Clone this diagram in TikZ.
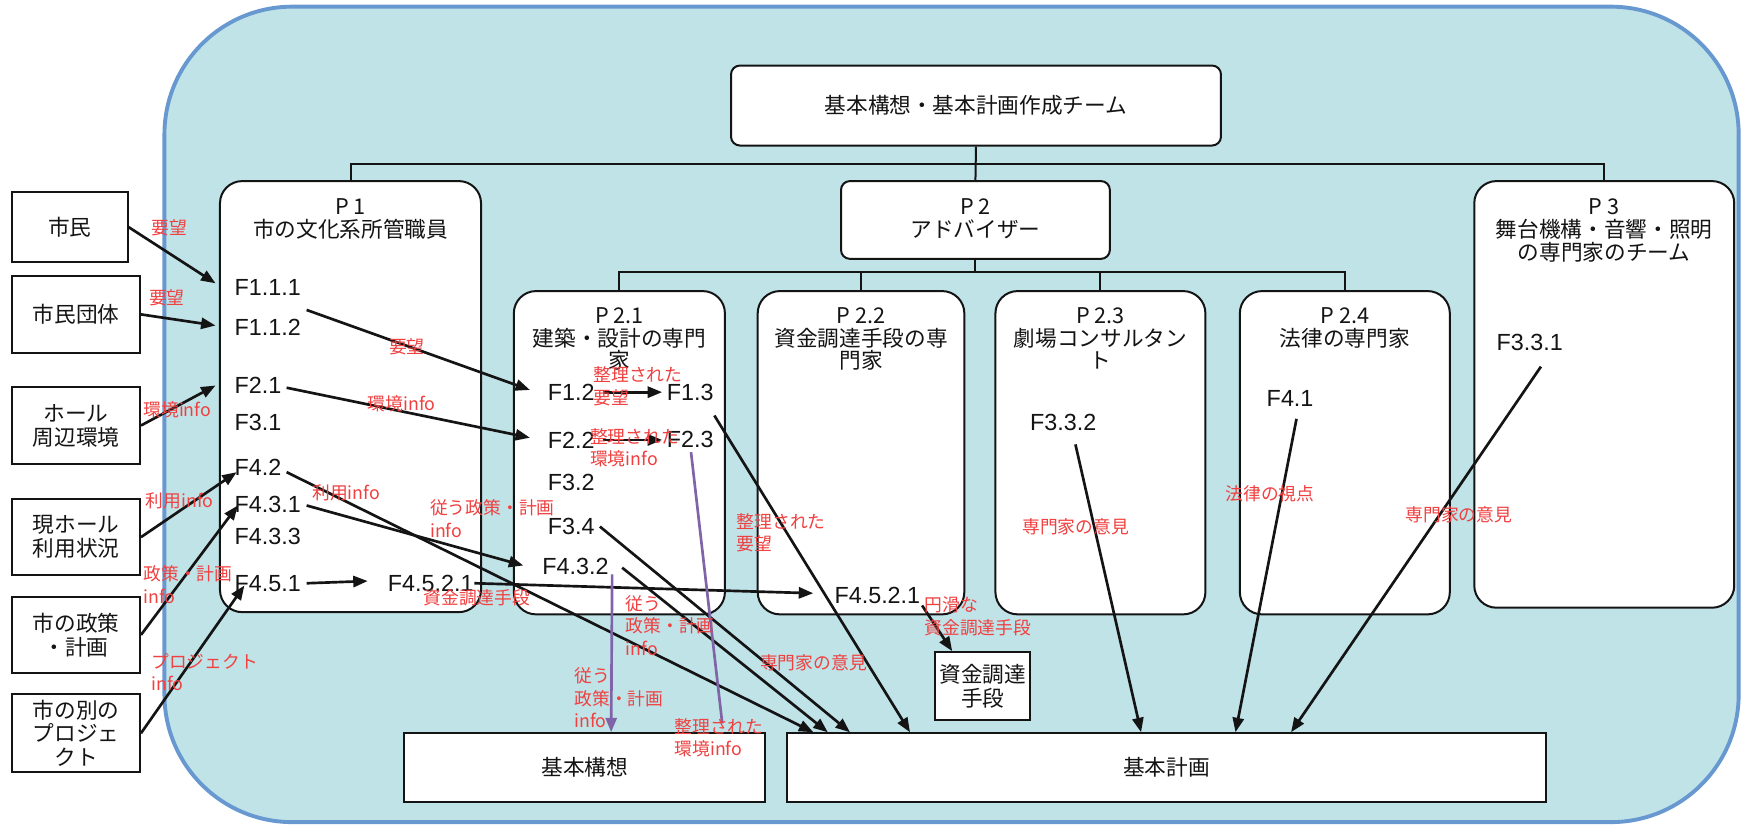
\documentclass[tikz,border=0pt]{standalone}
\usepackage{fontspec}
\setmainfont{Liberation Sans}
\newfontfamily\jp{Noto Sans CJK JP}
\usetikzlibrary{arrows.meta}
\definecolor{bgblue}{RGB}{192,227,232}
\definecolor{frameblue}{RGB}{104,152,208}
\definecolor{lblred}{RGB}{240,64,64}
\definecolor{purp}{RGB}{128,100,168}
\definecolor{ink}{RGB}{20,20,20}
\begin{document}
\begin{tikzpicture}[x=1pt,y=-1pt,
  box/.style={draw=ink, line width=1.8pt, fill=white, inner sep=0pt, align=center, text=ink, font=\jp\fontsize{19.5}{21.5}\selectfont},
  pbox/.style={box, rounded corners=20pt},
  ptitle/.style={font=\jp\fontsize{19.5}{20.5}\selectfont, align=center, inner sep=0pt, anchor=north, text=ink},
  flab/.style={font=\fontsize{21}{23}\selectfont, anchor=west, inner sep=0pt, text=ink},
  rlab/.style={font=\jp\fontsize{16}{20.5}\selectfont, text=lblred, anchor=west, align=left, inner sep=0pt},
  arr/.style={draw=ink, line width=2.4pt, -{Triangle[length=13pt,width=10pt]}},
  parr/.style={draw=purp, line width=2.4pt},
  tree/.style={draw=ink, line width=1.8pt}
]
\useasboundingbox (0,0) rectangle (1568,743);
% frame
\draw[line width=3.5pt, draw=frameblue, fill=bgblue, rounded corners=115pt] (148,6) rectangle (1565,740);

% boxes
\node[box, rounded corners=8pt, minimum width=441pt, minimum height=72pt] (team) at (878.5,95) {基本構想・基本計画作成チーム};
\node[pbox, minimum width=235pt, minimum height=388pt] (p1) at (315.5,357) {};
\node[box, rounded corners=8pt, minimum width=242pt, minimum height=70pt] (p2) at (878,198) {};
\node[pbox, minimum width=190pt, minimum height=291pt] (p21) at (557.5,407.5) {};
\node[pbox, minimum width=186pt, minimum height=291pt] (p22) at (775,407.5) {};
\node[pbox, minimum width=189pt, minimum height=291pt] (p23) at (990.5,407.5) {};
\node[pbox, minimum width=189pt, minimum height=291pt] (p24) at (1210.5,407.5) {};
\node[pbox, minimum width=234pt, minimum height=384pt] (p3) at (1444,355) {};

% tree connectors
\coordinate (busA) at (878,148);
\coordinate (busB) at (878,245);
\draw[tree] (team.south) -- (p2.north);
\draw[tree] (p1.north) -- (p1.north |- busA) -- (p3.north |- busA) -- (p3.north);
\draw[tree] (p2.south) -- (p2.south |- busB);
\draw[tree] (p21.north) -- (p21.north |- busB) -- (p24.north |- busB) -- (p24.north);
\draw[tree] (p22.north) -- (p22.north |- busB);
\draw[tree] (p23.north) -- (p23.north |- busB);

% titles
\node[ptitle] (p1t) at (315.5,179) {P 1\\市の文化系所管職員};
\node[ptitle] (p2t) at (878,179) {P 2\\アドバイザー};
\node[ptitle] (p21t) at (557.5,276.5) {P 2.1\\建築・設計の専門\\家};
\node[ptitle] (p22t) at (775,276.5) {P 2.2\\資金調達手段の専\\門家};
\node[ptitle] (p23t) at (990.5,276.5) {P 2.3\\劇場コンサルタン\\ト};
\node[ptitle] (p24t) at (1210.5,276.5) {P 2.4\\法律の専門家};
\node[ptitle] (p3t) at (1444,179) {P 3\\舞台機構・音響・照明\\の専門家のチーム};

% left boxes
\node[box, minimum width=104pt, minimum height=63pt] (shimin) at (63,204.5) {市民};
\node[box, minimum width=115pt, minimum height=70pt] (dantai) at (68.5,283) {市民団体};
\node[box, minimum width=115pt, minimum height=70pt] (hall) at (68.5,383) {ホール\\周辺環境};
\node[box, minimum width=115pt, minimum height=69pt] (riyou) at (68.5,483.5) {現ホール\\利用状況};
\node[box, minimum width=115pt, minimum height=69pt] (seisaku) at (68.5,571.5) {市の政策\\・計画};
\node[box, minimum width=115pt, minimum height=70pt] (betsu) at (68.5,660) {市の別の\\プロジェ\\クト};

% output boxes
\node[box, minimum width=325pt, minimum height=62pt] (kousou) at (526.5,691) {基本構想};
\node[box, minimum width=684pt, minimum height=62pt] (kihon) at (1050,691) {基本計画};
\node[box, minimum width=85pt, minimum height=61pt] (shikin) at (884.5,617.5) {資金調達\\手段};

% F labels
\node[flab] (f111) at (211,259) {F1.1.1};
\node[flab] (f112) at (211,295) {F1.1.2};
\node[flab] (f21) at (211,347) {F2.1};
\node[flab] (f31) at (211,380) {F3.1};
\node[flab] (f42) at (211,421) {F4.2};
\node[flab] (f431) at (211,454) {F4.3.1};
\node[flab] (f433) at (211,483) {F4.3.3};
\node[flab] (f451) at (211,525) {F4.5.1};
\node[flab] (f4521a) at (349,525) {F4.5.2.1};
\node[flab] (f12) at (493,353) {F1.2};
\node[flab] (f13) at (600,353) {F1.3};
\node[flab] (f22) at (493,396) {F2.2};
\node[flab] (f23) at (600,396) {F2.3};
\node[flab] (f32) at (493,434) {F3.2};
\node[flab] (f34) at (493,474) {F3.4};
\node[flab] (f432) at (488,510) {F4.3.2};
\node[flab] (f4521b) at (751,536) {F4.5.2.1};
\node[flab] (f332) at (927,380) {F3.3.2};
\node[flab] (f41) at (1140,359) {F4.1};
\node[flab] (f331) at (1347,308) {F3.3.1};

% arrows
\draw[arr] (shimin.east) -- ([shift={(-17,-4)}]f111.west);
\draw[arr] (dantai.east) -- ([shift={(-17,-2)}]f112.west);
\draw[arr] (hall.east) -- ([shift={(-17,0)}]f21.west);
\draw[arr] (riyou.east) -- ([shift={(2,4)}]f42.west);
\draw[arr] (seisaku.east) -- ([shift={(3,1)}]f431.west);
\draw[arr] (betsu.east) -- ([shift={(9,2)}]f451.west);
\draw[arr] ([shift={(65,20)}]f111.west) -- ([shift={(-16,-2)}]f12.west);
\draw[arr] ([shift={(47,2)}]f21.west) -- ([shift={(-16,-2)}]f22.west);
\draw[arr] ([shift={(50,0)}]f12.west) -- ([shift={(-4,0)}]f13.west);
\draw[arr] ([shift={(50,0)}]f22.west) -- ([shift={(-4,0)}]f23.west);
\draw[arr] ([shift={(47,4)}]f42.west) -- ([shift={(25,0)}]kihon.north west);
\draw[arr] ([shift={(65,1)}]f431.west) -- ([shift={(-17,-1)}]f432.west);
\draw[arr] ([shift={(65,0)}]f451.west) -- ([shift={(-18,-2)}]f4521a.west);
\draw[arr] ([shift={(78,0)}]f4521a.west) -- ([shift={(-19,-2)}]f4521b.west);
\draw[arr] ([shift={(79,9)}]f4521b.west) -- ([shift={(16,0)}]shikin.north west);
\draw[arr] ([shift={(43,21)}]f13.west) -- ([shift={(112,0)}]kihon.north west);
\draw[arr] ([shift={(47,0)}]f34.west) -- ([shift={(58,0)}]kihon.north west);
\draw[arr] ([shift={(72,1)}]f432.west) -- ([shift={(38,0)}]kihon.north west);
\draw[arr] ([shift={(41,20)}]f332.west) -- ([shift={(320,0)}]kihon.north west);
\draw[arr] ([shift={(27,18)}]f41.west) -- ([shift={(405,0)}]kihon.north west);
\draw[arr] ([shift={(40,22)}]f331.west) -- ([shift={(455,0)}]kihon.north west);
\draw[parr, -{Triangle[length=13pt,width=10pt]}] ([shift={(63,7)}]f432.west) -- ([shift={(187,0)}]kousou.north west);
\draw[parr] ([shift={(22,11)}]f23.west) -- ([shift={(287,-8)}]kousou.north west);

% red labels
\node[rlab] (l1) at (136,205) {要望};
\node[rlab] (l2) at (134,268) {要望};
\node[rlab] (l3) at (129,369) {環境info};
\node[rlab] (l4) at (131,451) {利用info};
\node[rlab] (l5) at (129,526.5) {政策・計画\\info};
\node[rlab] (l6) at (136,605) {プロジェクト\\info};
\node[rlab] (l7) at (350,312) {要望};
\node[rlab] (l8) at (331,363) {環境info};
\node[rlab] (l9) at (534,348) {整理された\\要望};
\node[rlab] (l10) at (531,403) {整理された\\環境info};
\node[rlab] (l11) at (281,444) {利用info};
\node[rlab] (l12) at (387,466.5) {従う政策・計画\\info};
\node[rlab] (l13) at (381,538) {資金調達手段};
\node[rlab] (l14) at (663,479.5) {整理された\\要望};
\node[rlab] (l15) at (832,555) {円滑な\\資金調達手段};
\node[rlab] (l16) at (563,563) {従う\\政策・計画\\info};
\node[rlab] (l17) at (684,597) {専門家の意見};
\node[rlab] (l18) at (517,628) {従う\\政策・計画\\info};
\node[rlab] (l19) at (607,664) {整理された\\環境info};
\node[rlab] (l20) at (920,474) {専門家の意見};
\node[rlab] (l21) at (1103,444) {法律の視点};
\node[rlab] (l22) at (1265,463) {専門家の意見};
\end{tikzpicture}
\end{document}
